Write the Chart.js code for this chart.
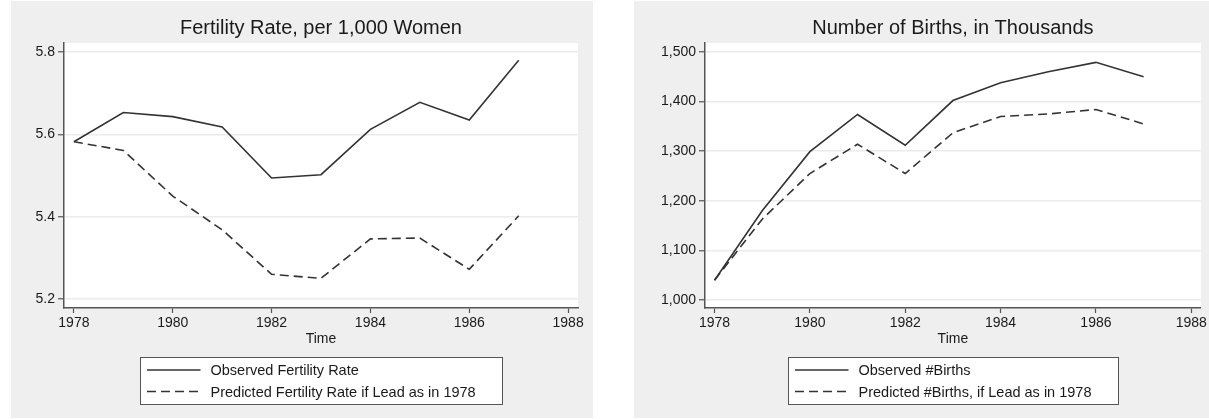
<!DOCTYPE html>
<html>
<head>
<meta charset="utf-8">
<script src="https://cdn.jsdelivr.net/npm/chart.js@4.4.1/dist/chart.umd.min.js"></script>
<style>
  body { margin: 0; background: #fff; width: 1209px; height: 419px; overflow: hidden; position: relative; }
  .panel { position: absolute; top: 1px; height: 417px; background: #efefef; }
  #leftPanel { left: 11px; width: 582px; }
  #rightPanel { left: 634px; width: 575px; }
</style>
</head>
<body>
<div class="panel" id="leftPanel"><canvas id="fertChart"></canvas></div>
<div class="panel" id="rightPanel"><canvas id="birthChart"></canvas></div>
<script>
  // data
  const years = [1978, 1979, 1980, 1981, 1982, 1983, 1984, 1985, 1986, 1987];
  const fertObserved = [5.582, 5.653, 5.643, 5.618, 5.494, 5.502, 5.612, 5.678, 5.635, 5.780];
  const fertPredicted = [5.582, 5.561, 5.450, 5.368, 5.260, 5.250, 5.346, 5.348, 5.272, 5.402];
  const birthsObserved = [1040, 1180, 1299, 1374, 1312, 1402, 1438, 1460, 1479, 1450];
  const birthsPredicted = [1040, 1163, 1255, 1314, 1255, 1337, 1370, 1375, 1384, 1355];
  const yearTicks = [1978, 1980, 1982, 1984, 1986, 1988];
  const fertTicks = [5.2, 5.4, 5.6, 5.8];
  const birthTicks = [1000, 1100, 1200, 1300, 1400, 1500];

  const FONT = '"Liberation Sans", Arial, Helvetica, sans-serif';
  Chart.defaults.font.family = FONT;
  Chart.defaults.color = '#1a1a1a';

  // white plot area + boxed legend under the axis title
  const panelPlugin = {
    id: 'panelPlugin',
    beforeDraw(chart) {
      const { ctx, chartArea: a } = chart;
      ctx.save();
      ctx.fillStyle = '#fff';
      ctx.fillRect(a.left, a.top, a.right - a.left, a.bottom - a.top);
      ctx.restore();
    },
    afterDraw(chart) {
      const { ctx, chartArea: a } = chart;
      const sets = chart.data.datasets;
      ctx.save();
      ctx.font = '14.5px ' + FONT;
      const textW = Math.max(...sets.map(d => ctx.measureText(d.label).width));
      const w = Math.round(textW + 97);
      const h = 47;
      const left = Math.round((a.left + a.right) / 2 - w / 2) + 0.5;
      const top = Math.round(chart.scales.x.bottom + 9) + 0.5;
      ctx.fillStyle = '#fff';
      ctx.fillRect(left, top, w, h);
      ctx.strokeStyle = '#555';
      ctx.lineWidth = 1;
      ctx.strokeRect(left, top, w, h);
      sets.forEach((d, i) => {
        const y = top + 12.5 + i * 21.5;
        ctx.beginPath();
        ctx.setLineDash(d.borderDash || []);
        ctx.strokeStyle = d.borderColor;
        ctx.lineWidth = d.borderWidth;
        ctx.moveTo(left + 6.5, y);
        ctx.lineTo(left + 60, y);
        ctx.stroke();
        ctx.setLineDash([]);
        ctx.fillStyle = '#1a1a1a';
        ctx.textBaseline = 'middle';
        ctx.fillText(d.label, left + 70, y + 1);
      });
      ctx.restore();
    }
  };

  function makePanel(id, cfg) {
    const ctx = document.getElementById(id).getContext('2d');
    return new Chart(ctx, {
      type: 'line',
      data: {
        datasets: [
          { label: cfg.labels[0], data: years.map((x, i) => ({ x, y: cfg.observed[i] })),
            borderColor: '#333', borderWidth: 1.6, pointRadius: 0, tension: 0, fill: false },
          { label: cfg.labels[1], data: years.map((x, i) => ({ x, y: cfg.predicted[i] })),
            borderColor: '#333', borderWidth: 1.6, borderDash: [9, 5], pointRadius: 0, tension: 0, fill: false }
        ]
      },
      options: {
        responsive: true,
        maintainAspectRatio: false,
        animation: false,
        events: [],
        layout: { padding: { left: 0, right: cfg.padRight, top: 0, bottom: 70 } },
        plugins: {
          legend: { display: false },
          tooltip: { enabled: false },
          title: {
            display: true, text: cfg.title, fullSize: false, color: '#1a1a1a',
            font: { size: 20, weight: 'normal' }, padding: { top: 15, bottom: 3 }
          }
        },
        scales: {
          x: {
            type: 'linear', min: 1977.8, max: 1988.2,
            afterBuildTicks: s => { s.ticks = yearTicks.map(v => ({ value: v })); },
            afterFit: s => { s.height = 40; },
            ticks: { callback: v => String(v), font: { size: 14 }, padding: 2, maxRotation: 0, autoSkip: false, color: '#1a1a1a' },
            grid: { drawOnChartArea: false, tickLength: 5, tickColor: '#555', tickWidth: 1.2 },
            border: { color: '#555', width: 1.5 },
            title: { display: true, text: 'Time', font: { size: 14 }, padding: 0, color: '#1a1a1a' }
          },
          y: {
            min: cfg.yMin, max: cfg.yMax,
            afterBuildTicks: s => { s.ticks = cfg.yTicks.map(v => ({ value: v })); },
            afterFit: s => { s.width = cfg.yWidth; },
            ticks: { callback: cfg.fmt, font: { size: 14 }, padding: 3, color: '#1a1a1a' },
            grid: { color: '#ebebeb', lineWidth: 1.5, tickLength: 6, tickColor: '#555', tickWidth: 1.2 },
            border: { color: '#555', width: 1.5 }
          }
        }
      },
      plugins: [panelPlugin]
    });
  }

  makePanel('fertChart', {
    title: 'Fertility Rate, per 1,000 Women',
    labels: ['Observed Fertility Rate', 'Predicted Fertility Rate if Lead as in 1978'],
    observed: fertObserved, predicted: fertPredicted,
    yTicks: fertTicks, yMin: 5.178, yMax: 5.822, yWidth: 53, padRight: 15,
    fmt: v => v.toFixed(1)
  });

  makePanel('birthChart', {
    title: 'Number of Births, in Thousands',
    labels: ['Observed #Births', 'Predicted #Births, if Lead as in 1978'],
    observed: birthsObserved, predicted: birthsPredicted,
    yTicks: birthTicks, yMin: 984, yMax: 1518, yWidth: 71, padRight: 7,
    fmt: v => v.toLocaleString('en-US')
  });
</script>
</body>
</html>
